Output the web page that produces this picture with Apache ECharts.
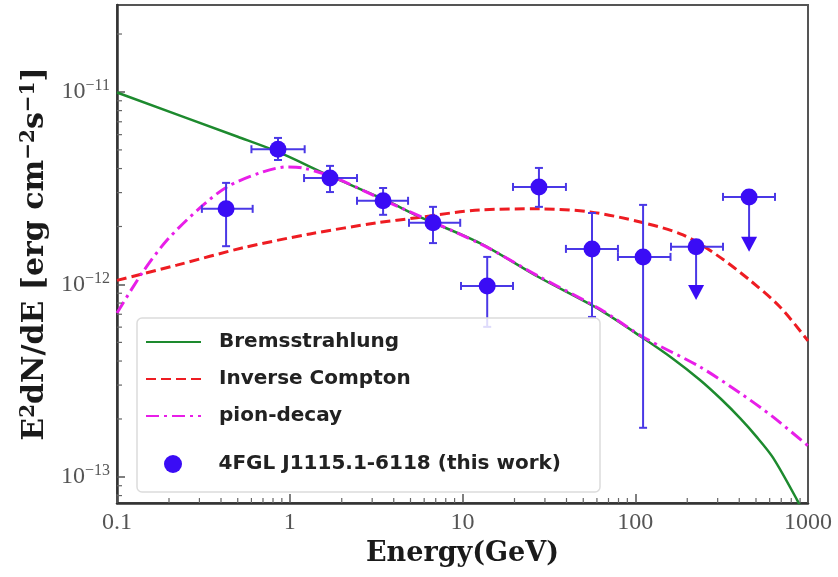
<!DOCTYPE html>
<html>
<head>
<meta charset="utf-8">
<script src="https://cdn.jsdelivr.net/npm/echarts@6/dist/echarts.min.js"></script>
<style>
html,body{margin:0;padding:0;background:#fff;}
#chart{width:838px;height:577px;}
</style>
</head>
<body>
<div id="chart"></div>
<script>
// ---- data ----
const xTicks = [0.1, 1, 10, 100, 1000];
const yTicks = [1e-13, 1e-12, 1e-11];

// measured flux points (GeV, erg cm^-2 s^-1)
const ptEnergy   = [0.428, 0.855, 1.71, 3.47, 6.75, 13.9, 27.7, 56.2, 111];
const ptELow     = [0.31, 0.60, 1.21, 2.45, 4.9, 9.8, 19.6, 39.7, 79.4];
const ptEHigh    = [0.61, 1.22, 2.45, 4.84, 9.7, 19.6, 39.7, 79.4, 160];
const ptFlux     = [2.47e-12, 5.04e-12, 3.57e-12, 2.72e-12, 2.09e-12, 9.82e-13, 3.21e-12, 1.53e-12, 1.39e-12];
const ptFluxLow  = [1.58e-12, 4.43e-12, 3.02e-12, 2.30e-12, 1.64e-12, 6.02e-13, 2.53e-12, 6.78e-13, 1.80e-13];
const ptFluxHigh = [3.37e-12, 5.77e-12, 4.13e-12, 3.17e-12, 2.53e-12, 1.39e-12, 4.03e-12, 2.35e-12, 2.59e-12];

// upper limits
const ulEnergy = [225, 456];
const ulELow   = [161, 322];
const ulEHigh  = [322, 644];
const ulFlux   = [1.57e-12, 2.85e-12];
const ulTip    = [8.3e-13, 1.48e-12];

// model curves
const bremsE = [0.1, 0.5, 0.855, 1.71, 3.47, 5.68, 12.6, 27.7, 62.5, 111, 163, 237, 318, 404, 500, 627, 864, 1000];
const bremsF = [9.94e-12, 5.85e-12, 4.88e-12, 3.66e-12, 2.78e-12, 2.24e-12, 1.64e-12, 1.09e-12, 7.38e-13, 5.27e-13, 4.15e-13, 3.19e-13, 2.51e-13, 2.02e-13, 1.63e-13, 1.26e-13, 7.6e-14, 5.83e-14];

const icE = [0.1, 0.222, 0.536, 1.31, 3.20, 5.45, 12.6, 27.9, 54.8, 107, 189, 297, 462, 689, 1000];
const icF = [1.05e-12, 1.26e-12, 1.55e-12, 1.83e-12, 2.09e-12, 2.22e-12, 2.44e-12, 2.47e-12, 2.38e-12, 2.11e-12, 1.81e-12, 1.42e-12, 1.05e-12, 7.64e-13, 5.09e-13];

const pionE = [0.1, 0.141, 0.195, 0.302, 0.433, 0.673, 0.964, 1.19, 1.78, 3.47, 12.6, 27.7, 62.5, 111, 237, 404, 627, 1000];
const pionF = [7.11e-13, 1.16e-12, 1.70e-12, 2.50e-12, 3.21e-12, 3.80e-12, 4.08e-12, 4.03e-12, 3.62e-12, 2.75e-12, 1.63e-12, 1.10e-12, 7.45e-13, 5.33e-13, 3.73e-13, 2.73e-13, 2.05e-13, 1.45e-13];

const seriesNames = ['Bremsstrahlung', 'Inverse Compton', 'pion-decay', '4FGL J1115.1-6118 (this work)'];

const X_MIN = 0.1, X_MAX = 1000, Y_MIN = 7.32e-14, Y_MAX = 2.83e-11;

// ---- style ----
const GREEN = '#1d8a2e', RED = '#ee1c22', MAGENTA = '#e81ee8', MARK = '#3a0cf5', BAR = '#4a38e6';

// minor tick positions (axis decoration)
const xMinor = [];
for (let k = -1; k <= 2; k++) for (let m = 2; m <= 9; m++) xMinor.push(m * Math.pow(10, k));
const yMinor = [];
for (let k = -14; k <= -11; k++) for (let m = 2; m <= 9; m++) {
  const v = m * Math.pow(10, k);
  if (v > Y_MIN && v < Y_MAX) yMinor.push(v);
}
const minorData = xMinor.map(v => [v, 1e-12, 0]).concat(yMinor.map(v => [1, v, 1]));

const pts = ptEnergy.map((e, i) => [e, ptFlux[i], ptELow[i], ptEHigh[i], ptFluxLow[i], ptFluxHigh[i]]);
const uls = ulEnergy.map((e, i) => [e, ulFlux[i], ulELow[i], ulEHigh[i], ulTip[i]]);
const allMarkers = ptEnergy.map((e, i) => [e, ptFlux[i]]).concat(ulEnergy.map((e, i) => [e, ulFlux[i]]));

const CAP = 4;
function capsStyle() { return { stroke: BAR, lineWidth: 2 }; }

const chart = echarts.init(document.getElementById('chart'), null, { renderer: 'canvas' });

const serif = 'Liberation Serif';
const boldSerif = 'DejaVu Serif';

function legendAt(name, centerY, opts) {
  return Object.assign({
    data: [name],
    left: 145,
    top: centerY - 11,
    padding: 0,
    itemWidth: 55,
    itemHeight: 14,
    z: 20,
    selectedMode: false,
    itemStyle: { opacity: 0 },
    textStyle: { fontFamily: 'DejaVu Sans', fontWeight: 'bold', fontSize: 20, color: '#222', padding: [0, 0, 0, 13] }
  }, opts || {});
}

const option = {
  animation: false,
  backgroundColor: '#fff',
  grid: { left: 117, right: 30, top: 5, bottom: 74, show: true, borderColor: '#555', borderWidth: 2, backgroundColor: 'transparent' },
  graphic: [{
    type: 'rect', z: 10, silent: true,
    shape: { x: 137, y: 318, width: 463, height: 174, r: 5 },
    style: { fill: 'rgba(255,255,255,0.82)', stroke: '#dcdcdc', lineWidth: 1.5 }
  }],
  legend: [
    legendAt(seriesNames[0], 343),
    legendAt(seriesNames[1], 380),
    legendAt(seriesNames[2], 417),
    legendAt(seriesNames[3], 465, {
      left: 164, itemHeight: 18, itemStyle: { opacity: 1 },
      data: [{ name: seriesNames[3], icon: 'circle' }]
    })
  ],
  xAxis: {
    type: 'log', logBase: 10, min: X_MIN, max: X_MAX,
    name: 'Energy(GeV)', nameLocation: 'middle', nameGap: 37,
    nameTextStyle: { fontFamily: boldSerif, fontWeight: 'bold', fontSize: 27, color: '#1a1a1a' },
    axisLine: { show: true, lineStyle: { color: '#333', width: 2.5 } },
    axisTick: { show: true, inside: true, length: 9, lineStyle: { color: '#555', width: 1.5 } },
    axisLabel: {
      margin: 8, fontFamily: serif, fontSize: 24, color: '#555',
      formatter: function (v) {
        const l = Math.log10(v);
        if (Math.abs(l - Math.round(l)) > 0.01) return '';
        return v < 1 ? String(+v.toPrecision(1)) : String(Math.round(v));
      }
    },
    splitLine: { show: false }
  },
  yAxis: {
    type: 'log', logBase: 10, min: Y_MIN, max: Y_MAX,
    name: 'E{sup|2}dN/dE [erg cm{sup|−2}s{sup|−1}]', nameLocation: 'middle', nameGap: 60, nameRotate: 90,
    nameTextStyle: {
      fontFamily: boldSerif, fontWeight: 'bold', fontSize: 30, color: '#1a1a1a',
      rich: { sup: { fontFamily: boldSerif, fontWeight: 'bold', fontSize: 20, color: '#1a1a1a', padding: [0, 0, 13, 0] } }
    },
    axisLine: { show: true, lineStyle: { color: '#333', width: 2.5 } },
    axisTick: { show: true, inside: true, length: 8, lineStyle: { color: '#555', width: 1.5 } },
    axisLabel: {
      margin: 7, fontFamily: serif, fontSize: 24, color: '#555', showMinLabel: false, showMaxLabel: false,
      formatter: function (v) {
        const l = Math.log10(v);
        if (Math.abs(l - Math.round(l)) > 0.01) return '';
        return '10{sup|−' + Math.abs(Math.round(l)) + '}';
      },
      rich: { sup: { fontFamily: serif, fontSize: 16, color: '#555', padding: [0, 0, 12, 0] } }
    },
    splitLine: { show: false }
  },
  series: [
    {
      name: seriesNames[0], type: 'line', data: bremsE.map((e, i) => [e, bremsF[i]]),
      showSymbol: false, symbol: 'none', smooth: 0.3, clip: true, z: 3,
      lineStyle: { color: GREEN, width: 2.5, type: 'solid' }, itemStyle: { color: GREEN }
    },
    {
      name: seriesNames[1], type: 'line', data: icE.map((e, i) => [e, icF[i]]),
      showSymbol: false, symbol: 'none', smooth: 0.3, clip: true, z: 3,
      lineStyle: { color: RED, width: 3, type: [10, 5] }, itemStyle: { color: RED }
    },
    {
      name: seriesNames[2], type: 'line', data: pionE.map((e, i) => [e, pionF[i]]),
      showSymbol: false, symbol: 'none', smooth: 0.3, clip: true, z: 3,
      lineStyle: { color: MAGENTA, width: 3, type: [13, 5, 3, 5] }, itemStyle: { color: MAGENTA }
    },
    {
      type: 'custom', silent: true, z: 4, clip: true,
      data: pts,
      renderItem: function (params, api) {
        const c = api.coord([api.value(0), api.value(1)]);
        const l = api.coord([api.value(2), api.value(1)]);
        const r = api.coord([api.value(3), api.value(1)]);
        const lo = api.coord([api.value(0), api.value(4)]);
        const hi = api.coord([api.value(0), api.value(5)]);
        const s = capsStyle();
        return { type: 'group', children: [
          { type: 'line', shape: { x1: l[0], y1: c[1], x2: r[0], y2: c[1] }, style: s },
          { type: 'line', shape: { x1: l[0], y1: c[1] - CAP, x2: l[0], y2: c[1] + CAP }, style: s },
          { type: 'line', shape: { x1: r[0], y1: c[1] - CAP, x2: r[0], y2: c[1] + CAP }, style: s },
          { type: 'line', shape: { x1: c[0], y1: lo[1], x2: c[0], y2: hi[1] }, style: s },
          { type: 'line', shape: { x1: c[0] - CAP, y1: lo[1], x2: c[0] + CAP, y2: lo[1] }, style: s },
          { type: 'line', shape: { x1: c[0] - CAP, y1: hi[1], x2: c[0] + CAP, y2: hi[1] }, style: s }
        ] };
      }
    },
    {
      type: 'custom', silent: true, z: 4, clip: true,
      data: uls,
      renderItem: function (params, api) {
        const c = api.coord([api.value(0), api.value(1)]);
        const l = api.coord([api.value(2), api.value(1)]);
        const r = api.coord([api.value(3), api.value(1)]);
        const t = api.coord([api.value(0), api.value(4)]);
        const s = capsStyle();
        return { type: 'group', children: [
          { type: 'line', shape: { x1: l[0], y1: c[1], x2: r[0], y2: c[1] }, style: s },
          { type: 'line', shape: { x1: l[0], y1: c[1] - CAP, x2: l[0], y2: c[1] + CAP }, style: s },
          { type: 'line', shape: { x1: r[0], y1: c[1] - CAP, x2: r[0], y2: c[1] + CAP }, style: s },
          { type: 'line', shape: { x1: c[0], y1: c[1], x2: c[0], y2: t[1] - 12 }, style: s },
          { type: 'polygon', shape: { points: [[c[0] - 8, t[1] - 15], [c[0] + 8, t[1] - 15], [c[0], t[1]]] }, style: { fill: MARK } }
        ] };
      }
    },
    {
      name: seriesNames[3], type: 'scatter', data: allMarkers, z: 5,
      symbol: 'circle', symbolSize: 17, itemStyle: { color: MARK, opacity: 1 }
    },
    {
      type: 'custom', silent: true, z: 6, clip: false,
      data: minorData,
      renderItem: function (params, api) {
        const cs = params.coordSys;
        const p = api.coord([api.value(0), api.value(1)]);
        const st = { stroke: '#666', lineWidth: 1.2 };
        if (api.value(2) === 0) {
          const yb = cs.y + cs.height;
          return { type: 'line', shape: { x1: p[0], y1: yb, x2: p[0], y2: yb - 5 }, style: st };
        }
        return { type: 'line', shape: { x1: cs.x, y1: p[1], x2: cs.x + 5, y2: p[1] }, style: st };
      }
    }
  ]
};
chart.setOption(option);
</script>
</body>
</html>
